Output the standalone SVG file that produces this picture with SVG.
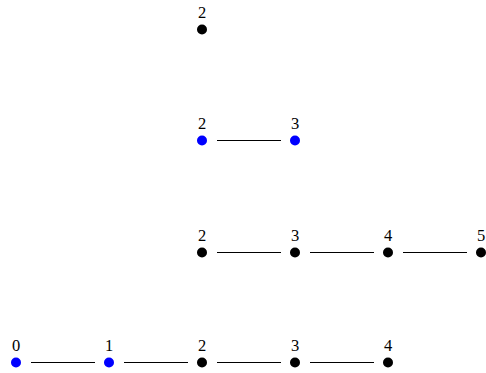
<svg xmlns="http://www.w3.org/2000/svg" width="486" height="373" viewBox="0 0 486 373">
<style>
.n{fill:#000}
.b{fill:#0000ff}
.t{font-family:"Liberation Serif","DejaVu Serif",serif;font-size:16.5px;text-anchor:middle;fill:#000}
.e{stroke:#000;stroke-width:1;fill:none}
</style>
<rect width="486" height="373" fill="#fff"/>
<g id="connectors">
<line class="e" x1="217" y1="140.5" x2="281" y2="140.5"/>
<line class="e" x1="217" y1="252.5" x2="281" y2="252.5"/>
<line class="e" x1="310" y1="252.5" x2="374" y2="252.5"/>
<line class="e" x1="403" y1="252.5" x2="467" y2="252.5"/>
<line class="e" x1="31" y1="362.5" x2="95" y2="362.5"/>
<line class="e" x1="124" y1="362.5" x2="188" y2="362.5"/>
<line class="e" x1="217" y1="362.5" x2="281" y2="362.5"/>
<line class="e" x1="310" y1="362.5" x2="374" y2="362.5"/>
</g>
<g id="r1n2"><circle class="n" cx="202" cy="29.5" r="5"/><text class="t" x="202" y="18">2</text></g>
<g id="r2n2"><circle class="b" cx="202" cy="140.5" r="5"/><text class="t" x="202" y="129">2</text></g>
<g id="r2n3"><circle class="b" cx="295" cy="140.5" r="5"/><text class="t" x="295" y="129">3</text></g>
<g id="r3n2"><circle class="n" cx="202" cy="252.5" r="5"/><text class="t" x="202" y="241">2</text></g>
<g id="r3n3"><circle class="n" cx="295" cy="252.5" r="5"/><text class="t" x="295" y="241">3</text></g>
<g id="r3n4"><circle class="n" cx="388" cy="252.5" r="5"/><text class="t" x="388" y="241">4</text></g>
<g id="r3n5"><circle class="n" cx="481" cy="252.5" r="5"/><text class="t" x="481" y="241">5</text></g>
<g id="r4n0"><circle class="b" cx="16" cy="362.5" r="5"/><text class="t" x="16" y="351">0</text></g>
<g id="r4n1"><circle class="b" cx="109" cy="362.5" r="5"/><text class="t" x="109" y="351">1</text></g>
<g id="r4n2"><circle class="n" cx="202" cy="362.5" r="5"/><text class="t" x="202" y="351">2</text></g>
<g id="r4n3"><circle class="n" cx="295" cy="362.5" r="5"/><text class="t" x="295" y="351">3</text></g>
<g id="r4n4"><circle class="n" cx="388" cy="362.5" r="5"/><text class="t" x="388" y="351">4</text></g>
</svg>
